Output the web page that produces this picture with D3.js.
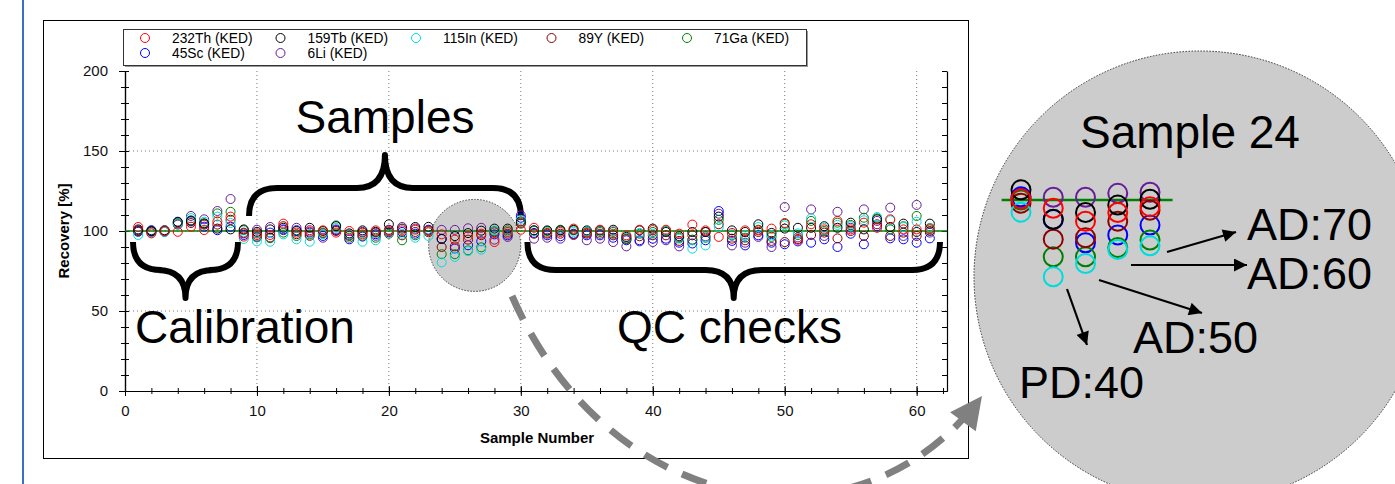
<!DOCTYPE html>
<html>
<head>
<meta charset="utf-8">
<script src="https://cdnjs.cloudflare.com/ajax/libs/d3/7.8.5/d3.min.js"></script>
<style>
body { margin: 0; background: white; }
text { font-family: "Liberation Sans", Arial, sans-serif; }
</style>
</head>
<body>
<div id="grafico"></div>
<script>
// datos: recuperacion [%] por muestra 1..61
var samples = d3.range(1, 62);

var th232 = [102.5, 98.5, 100, 99.5, 102.7, 100.6, 106, 109, 96.5, 97.5,
             97.5, 104.6, 99, 99.6, 100.4, 99, 100, 97.9, 100.4, 99.8,
             100.4, 100.8, 100.3, 97.9, 94.6, 96.8, 98.3, 93.1, 99.4, 100.8,
             102, 98.8, 99.4, 101.5, 98.8, 100.8, 99.4, 97.3, 100.8, 100.6,
             100.8, 98.3, 104, 100.4, 96.3, 98.8, 100.4, 100.4, 101.5, 105,
             94.5, 104.2, 101, 106.3, 101, 105.2, 102, 107.3, 101, 101, 101.6];
var tb159 = [101, 100, 100.5, 105.8, 106.5, 104.8, 101.5, 101, 101, 99.5,
             101, 102, 100, 102, 100, 103, 98.5, 100.4, 99.5, 104.2,
             101.5, 102.5, 102.6, 95.1, 96.8, 98.7, 100.2, 101.5, 101.5, 106,
             100.4, 100.4, 100.4, 100.8, 100.4, 100.4, 100.8, 96.3, 100.4, 101.5,
             99.4, 96.7, 99.4, 99.4, 109, 100.4, 99.4, 104.2, 98.8, 101.5,
             102, 102, 103, 102, 105.2, 101, 107.3, 102.5, 104.6, 99.4, 104.6];
var in115 = [97.5, 99, 99.5, 104.8, 108, 105.8, 109, 105, 95, 93.5,
             93.3, 97.9, 94.8, 93.3, 98, 102, 98, 93.3, 94.2, 100,
             98.3, 95.8, 96.9, 80.4, 83.8, 87.4, 88.3, 100.4, 99.4, 107,
             100, 99.4, 100, 99.4, 99.8, 100, 100, 95.8, 98.8, 98.3,
             100.4, 95.2, 89, 91, 102.5, 97.9, 97.3, 102.5, 97.3, 103.5,
             98.5, 107.9, 102, 103.8, 103, 106.7, 108.7, 106.7, 102.5, 105.8, 102];
var y89 = [100, 99.5, 100, 105, 105, 104, 104, 107, 98.5, 98.5,
           96, 103, 98, 97, 98.5, 100, 96.9, 99, 99, 100.4,
           97.3, 99.4, 99.2, 90, 90.4, 94.6, 97.4, 99.2, 98.3, 104.6,
           98.3, 98.3, 98.3, 97.9, 98.3, 98.3, 97.3, 95.2, 96.7, 97.3,
           97.3, 93.8, 97.3, 99.4, 104.2, 95.2, 94.2, 99.4, 93.8, 93.1,
           95, 97.5, 99, 95.4, 100, 96.9, 104.2, 96.9, 99, 96.9, 100];
var ga71 = [100, 100, 100, 104.5, 106.5, 104.5, 111, 112, 100.5, 96,
            95.5, 99, 96.9, 97.9, 99, 103.5, 95.8, 97, 95.8, 98.3,
            94.2, 97.3, 100, 85.5, 85.5, 87.9, 89.8, 100, 100.4, 105.2,
            100.4, 100, 100.8, 100.4, 99.4, 99.4, 98.3, 94.8, 98.3, 99.4,
            100, 95.8, 94.6, 95.8, 107, 97.3, 95.8, 100.8, 96.3, 104.5,
            97.5, 106.3, 100, 105.2, 103.8, 108.3, 107.9, 101, 103, 109.4, 101];
var sc45 = [99.5, 100.5, 99.5, 105.5, 106, 102.7, 100.5, 102.7, 97.5, 96.5,
            99, 101, 100.5, 99, 96.9, 100.5, 94.8, 96.5, 98, 99.2,
            99.4, 98.3, 100.8, 95, 89.1, 91.1, 93.6, 97.9, 97.3, 108.3,
            98.8, 97.3, 96.7, 98.3, 97.3, 97.3, 95.8, 94.2, 94.2, 95.2,
            95.2, 92.7, 92.2, 94.2, 112.5, 93.8, 91, 97.3, 92.7, 91.7,
            93.5, 92.7, 94.8, 90, 98.3, 91.7, 103, 95.4, 94.8, 92.7, 95.4];
var li6 = [100.5, 99.5, 100, 104, 109.4, 107.3, 112.5, 120, 99, 100.8,
           102.5, 100.5, 102, 100.5, 95.8, 101, 97.5, 99.5, 97, 100.8,
           102.5, 101.5, 100.5, 100.7, 100.7, 101.7, 102, 94.6, 96.3, 109.8,
           95.2, 95.8, 95.2, 97.5, 94.2, 95.2, 93.1, 90.4, 93.5, 93.1,
           94.2, 90.4, 94.2, 96.7, 110.8, 91, 92.7, 96.3, 90, 115,
           96, 113.5, 96.9, 112, 102, 113.5, 106.3, 114.6, 96.9, 116.3, 99];

var seriesNames = ["232Th (KED)", "159Tb (KED)", "115In (KED)", "89Y (KED)",
                   "71Ga (KED)", "45Sc (KED)", "6Li (KED)"];
var seriesColors = ["#ff0000", "#000000", "#00dcdc", "#8b0000",
                    "#008000", "#0000ff", "#6a1b9a"];
var seriesValues = [th232, tb159, in115, y89, ga71, sc45, li6];

var xTicks = [0, 10, 20, 30, 40, 50, 60],
    yTicks = [0, 50, 100, 150, 200];

// ampliacion (muestra 24 y vecinas)
var zoomSamples = [23, 24, 25, 26, 27];

var w = 1395,
    h = 484;

var svg = d3.select("#grafico")
            .append("svg")
            .attr("width", w)
            .attr("height", h)
            .style("background-color", "white");

var defs = svg.append("defs");
defs.append("marker")
    .attr("id", "flecha")
    .attr("viewBox", "0 0 10 10")
    .attr("refX", 10).attr("refY", 5)
    .attr("markerWidth", 15).attr("markerHeight", 13)
    .attr("markerUnits", "userSpaceOnUse")
    .attr("orient", "auto")
  .append("path")
    .attr("d", "M0,0 L10,5 L0,10 z")
    .attr("fill", "black");
defs.append("marker")
    .attr("id", "flechaGris")
    .attr("viewBox", "0 0 10 10")
    .attr("refX", 10).attr("refY", 5)
    .attr("markerWidth", 36).attr("markerHeight", 32)
    .attr("markerUnits", "userSpaceOnUse")
    .attr("orient", "auto")
  .append("path")
    .attr("d", "M0,0 L10,5 L0,10 z")
    .attr("fill", "#808080");

// linea azul de la izquierda
svg.append("line")
    .attr("x1", 23).attr("x2", 23)
    .attr("y1", 0).attr("y2", h)
    .attr("stroke", "#3b6fc4")
    .attr("stroke-width", 2);

// marco del grafico
svg.append("rect")
    .attr("x", 43.5).attr("y", 20.5)
    .attr("width", 925).attr("height", 438)
    .attr("fill", "white")
    .attr("stroke", "black");

var x = d3.scaleLinear().domain([0, 62.3]).range([125, 947]),
    y = d3.scaleLinear().domain([0, 200]).range([391, 71]);

// leyenda
var legend = svg.append("g");
legend.append("rect")
    .attr("x", 125).attr("y", 31)
    .attr("width", 683).attr("height", 36)
    .attr("fill", "#999");
legend.append("rect")
    .attr("x", 123.5).attr("y", 29.5)
    .attr("width", 683).attr("height", 36)
    .attr("fill", "white")
    .attr("stroke", "#333");

var items = legend.selectAll(".item")
    .data(seriesNames)
    .enter()
    .append("g")
    .attr("transform", function (d, i) {
        return "translate(" + (145 + (i % 5) * 135.5) + "," + (38 + Math.floor(i / 5) * 15) + ")";
    });
items.append("circle")
    .attr("r", 4.5)
    .attr("fill", "none")
    .attr("stroke", function (d, i) { return seriesColors[i]; });
items.append("text")
    .attr("x", 27)
    .attr("dy", "0.35em")
    .style("font-size", "13.8px")
    .text(function (d) { return d; });

// rejilla punteada
var g = svg.append("g");
g.selectAll(".vgrid")
    .data(xTicks.slice(1))
    .enter()
    .append("line")
    .attr("x1", function (d) { return x(d); })
    .attr("x2", function (d) { return x(d); })
    .attr("y1", y(200)).attr("y2", y(0))
    .attr("stroke", "#777")
    .attr("stroke-dasharray", "1,3");
g.selectAll(".hgrid")
    .data([50, 100, 150])
    .enter()
    .append("line")
    .attr("x1", x(0)).attr("x2", x(62.3))
    .attr("y1", function (d) { return y(d); })
    .attr("y2", function (d) { return y(d); })
    .attr("stroke", "#777")
    .attr("stroke-dasharray", "1,3");

// circulo gris de la zona de muestras
g.append("circle")
    .attr("cx", x(26.5)).attr("cy", y(91))
    .attr("r", 46)
    .attr("fill", "#cccccc")
    .attr("stroke", "#444")
    .attr("stroke-dasharray", "1.5,1.5");

// ejes
var xAxis = d3.axisBottom(x).tickValues(xTicks).tickSize(5).tickSizeOuter(0).tickPadding(9),
    xMinor = d3.axisBottom(x).tickValues(d3.range(0, 63, 2)).tickSize(3).tickSizeOuter(0).tickFormat(""),
    yAxis = d3.axisLeft(y).tickValues(yTicks).tickSize(6).tickSizeOuter(0).tickPadding(11),
    yMinor = d3.axisLeft(y).tickValues(d3.range(0, 201, 10)).tickSize(4).tickSizeOuter(0).tickFormat(""),
    yRight = d3.axisLeft(y).tickValues(d3.range(0, 201, 10)).tickSize(5).tickSizeOuter(0).tickFormat("");

g.append("g").attr("transform", "translate(0," + y(0) + ")").call(xMinor)
    .selectAll(".tick line").attr("y1", -3);
g.append("g").attr("class", "axisX").attr("transform", "translate(0," + y(0) + ")").call(xAxis)
    .selectAll(".tick line").attr("y1", -5);
g.append("g").attr("transform", "translate(" + x(0) + ",0)").call(yMinor)
    .selectAll(".tick line").attr("x1", 4);
g.append("g").attr("class", "axisY").attr("transform", "translate(" + x(0) + ",0)").call(yAxis)
    .selectAll(".tick line").attr("x1", 4);
g.append("g").attr("transform", "translate(" + x(62.3) + ",0)").call(yRight);

g.selectAll(".axisX text, .axisY text")
    .style("font-family", "'Liberation Sans', Arial, sans-serif")
    .style("font-size", "15px")
    .attr("fill", "#111");
g.selectAll(".domain").attr("stroke-width", 1.2);

g.append("text")
    .attr("x", 537).attr("y", 443)
    .attr("text-anchor", "middle")
    .style("font-size", "15px")
    .style("font-weight", "bold")
    .text("Sample Number");
g.append("text")
    .attr("transform", "translate(69," + y(100) + ") rotate(-90)")
    .attr("text-anchor", "middle")
    .style("font-size", "15px")
    .style("font-weight", "bold")
    .text("Recovery [%]");

// llaves
function bracePath(x1, x2, yEnd, yMid, yTip) {
    var xc = (x1 + x2) / 2, r = Math.abs(yMid - yEnd), p = d3.path();
    p.moveTo(x1, yEnd);
    p.quadraticCurveTo(x1, yMid, x1 + r, yMid);
    p.lineTo(xc - r, yMid);
    p.quadraticCurveTo(xc, yMid, xc, yTip);
    p.quadraticCurveTo(xc, yMid, xc + r, yMid);
    p.lineTo(x2 - r, yMid);
    p.quadraticCurveTo(x2, yMid, x2, yEnd);
    return p.toString();
}
var braces = [
    [x(9.4), x(30), 216, 188, 155],
    [133, 238, 242, 270, 298],
    [x(30.5), 940, 242, 270, 298]
];
g.selectAll(".brace")
    .data(braces)
    .enter()
    .append("path")
    .attr("d", function (d) { return bracePath(d[0], d[1], d[2], d[3], d[4]); })
    .attr("fill", "none")
    .attr("stroke", "black")
    .attr("stroke-width", 6)
    .attr("stroke-linejoin", "round");

g.append("text").attr("x", 385).attr("y", 133).attr("text-anchor", "middle")
    .style("font-size", "46px").text("Samples");
g.append("text").attr("x", 135).attr("y", 343)
    .style("font-size", "46px").text("Calibration");
g.append("text").attr("x", 617).attr("y", 343)
    .style("font-size", "46px").text("QC checks");

// linea de referencia 100 %
g.append("line")
    .attr("x1", x(0)).attr("x2", x(62.3))
    .attr("y1", y(100)).attr("y2", y(100))
    .attr("stroke", "#008000")
    .attr("stroke-width", 1.5);

// puntos
for (var k = seriesValues.length - 1; k >= 0; k--) {
    g.append("g")
        .selectAll("circle")
        .data(seriesValues[k])
        .enter()
        .append("circle")
        .attr("cx", function (d, i) { return x(samples[i]); })
        .attr("cy", function (d) { return y(d); })
        .attr("r", 4.5)
        .attr("fill", "none")
        .attr("stroke", seriesColors[k])
        .attr("stroke-width", 1);
}

// panel ampliado
var zx = d3.scaleLinear().domain([23, 27]).range([1021, 1150]),
    zy = d3.scaleLinear().domain([80, 100]).range([278.4, 200]);
var z = svg.append("g");
z.append("circle")
    .attr("cx", 1200).attr("cy", 277)
    .attr("r", 226)
    .attr("fill", "#cccccc")
    .attr("stroke", "#333")
    .attr("stroke-dasharray", "1.5,1.5");
z.append("text").attr("x", 1080).attr("y", 148)
    .style("font-size", "46px").text("Sample 24");
z.append("line")
    .attr("x1", zx(22.4)).attr("x2", zx(27.7))
    .attr("y1", zy(100)).attr("y2", zy(100))
    .attr("stroke", "#008000")
    .attr("stroke-width", 2.5);
for (var k = seriesValues.length - 1; k >= 0; k--) {
    z.append("g")
        .selectAll("circle")
        .data(zoomSamples)
        .enter()
        .append("circle")
        .attr("cx", function (d) { return zx(d); })
        .attr("cy", function (d) { return zy(seriesValues[k][d - 1]); })
        .attr("r", 9.5)
        .attr("fill", "none")
        .attr("stroke", seriesColors[k])
        .attr("stroke-width", 2);
}

var zoomArrows = [
    {x1: 1167, y1: 252, x2: 1236, y2: 232, label: "AD:70", tx: 1247, ty: 240},
    {x1: 1131, y1: 265, x2: 1247, y2: 265, label: "AD:60", tx: 1247, ty: 289},
    {x1: 1099, y1: 280, x2: 1202, y2: 313, label: "AD:50", tx: 1133, ty: 353},
    {x1: 1067, y1: 289, x2: 1087, y2: 345, label: "PD:40", tx: 1019, ty: 398}
];
z.selectAll(".arrow")
    .data(zoomArrows)
    .enter()
    .append("line")
    .attr("x1", function (d) { return d.x1; })
    .attr("y1", function (d) { return d.y1; })
    .attr("x2", function (d) { return d.x2; })
    .attr("y2", function (d) { return d.y2; })
    .attr("stroke", "black")
    .attr("stroke-width", 2.2)
    .attr("marker-end", "url(#flecha)");
z.selectAll(".lbl")
    .data(zoomArrows)
    .enter()
    .append("text")
    .attr("x", function (d) { return d.tx; })
    .attr("y", function (d) { return d.ty; })
    .style("font-size", "45px")
    .text(function (d) { return d.label; });

// flecha gris discontinua
svg.append("path")
    .attr("d", "M512,296 C610,520 860,560 982,396")
    .attr("fill", "none")
    .attr("stroke", "#808080")
    .attr("stroke-width", 7)
    .attr("stroke-dasharray", "26,16")
    .attr("marker-end", "url(#flechaGris)");
</script>
</body>
</html>
